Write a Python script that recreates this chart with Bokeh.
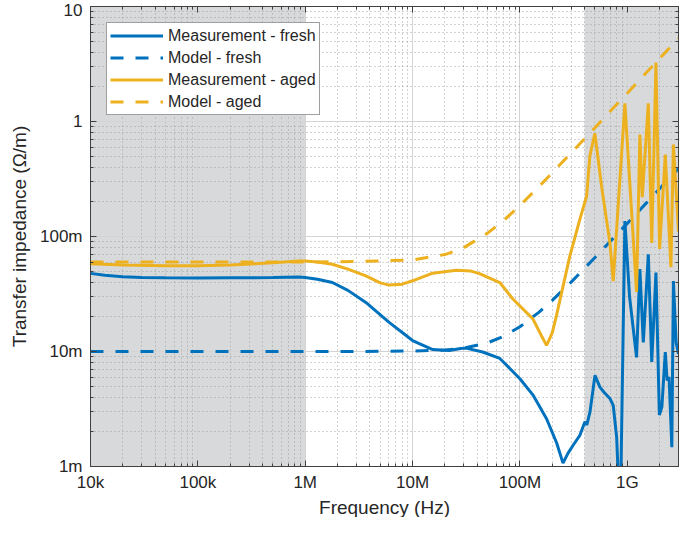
from bokeh.plotting import figure
from bokeh.models import FixedTicker, LogAxis, BoxAnnotation, Legend, LegendItem, Range1d, Title
from bokeh.embed import file_html
from bokeh.resources import INLINE

# ---------------- data ----------------
# Measurement - fresh
f_meas_fresh = [1e4, 1.36e4, 2e4, 3e4, 5e4, 1e5, 2e5, 5e5, 8.7e5, 1e6, 1.3e6, 1.79e6,
                2.5e6, 3.67e6, 6.05e6, 1e7, 1.54e7, 2.2e7, 2.8e7, 3.15e7, 4.5e7, 6.5e7,
                1e8, 1.32e8, 1.77e8, 2.2e8, 2.52e8, 2.8e8, 3.13e8, 3.62e8, 4.03e8, 4.2e8,
                4.5e8, 5e8, 5.56e8, 6.1e8, 6.9e8, 7.4e8, 7.96e8, 8.3e8, 8.7e8, 9.5e8,
                1.05e9, 1.22e9, 1.31e9, 1.41e9, 1.57e9, 1.69e9, 1.85e9, 1.99e9, 2.1e9,
                2.26e9, 2.35e9, 2.45e9, 2.6e9, 2.69e9, 2.85e9, 3e9]
z_meas_fresh = [0.0478, 0.0460, 0.0447, 0.0440, 0.0437, 0.0435, 0.0437, 0.0440, 0.0445, 0.0440,
                0.0425, 0.0398, 0.0340, 0.0267, 0.0179, 0.01245, 0.0104, 0.0102, 0.0106,
                0.0107, 0.0099, 0.0087, 0.0058, 0.0042, 0.0026, 0.0016, 0.00107, 0.0013,
                0.00153, 0.00187, 0.00245, 0.0023, 0.0030, 0.0062, 0.0049, 0.0044, 0.0039,
                0.0034, 0.0018, 0.0007, 0.0007, 0.136, 0.030, 0.0089, 0.052, 0.012, 0.070,
                0.0081, 0.0485, 0.0028, 0.0033, 0.0099, 0.0056, 0.0060, 0.00147, 0.041,
                0.012, 0.0095]

# Measurement - aged
f_meas_aged = [1e4, 2e4, 5e4, 1e5, 2e5, 5e5, 8.7e5, 1e6, 1.3e6, 1.79e6, 2.5e6, 3.67e6,
               5e6, 6.05e6, 8e6, 1e7, 1.54e7, 2.55e7, 3.5e7, 4.2e7, 6.5e7, 8.6e7, 1.32e8,
               1.6e8, 1.77e8, 2.0e8, 2.19e8, 2.92e8, 3.61e8, 4.18e8, 4.48e8, 4.99e8, 5.77e8,
               6.89e8, 7.4e8, 9.5e8, 1.22e9, 1.31e9, 1.38e9, 1.57e9, 1.69e9, 1.85e9, 2.0e9,
               2.26e9, 2.55e9, 2.69e9, 3e9]
z_meas_aged = [0.0580, 0.0565, 0.0558, 0.0556, 0.0565, 0.0590, 0.0612, 0.0612, 0.0600, 0.0574,
               0.0520, 0.0455, 0.0395, 0.0378, 0.0385, 0.0412, 0.0480, 0.0509, 0.0500, 0.0475,
               0.0398, 0.0286, 0.0192, 0.0135, 0.0113, 0.0145, 0.0205, 0.0678, 0.140, 0.224,
               0.50, 0.79, 0.27, 0.088, 0.041, 1.44, 0.033, 0.77, 0.22, 1.44, 0.088, 3.25,
               0.078, 0.515, 0.054, 0.63, 0.11]

# Models (fresh / aged) share the same frequency grid
f_model = [1e4, 1e5, 1e6, 3e6, 1e7, 2e7, 3e7, 5e7, 7e7, 1e8, 1.5e8, 2e8, 3e8, 5e8, 7e8,
           1e9, 1.5e9, 2e9, 3e9]
z_model_fresh = [0.0100, 0.0100, 0.0100, 0.0100, 0.0101, 0.0103, 0.0107, 0.0119, 0.0135,
                 0.0164, 0.0219, 0.0278, 0.0401, 0.0656, 0.0915, 0.130, 0.195, 0.260, 0.390]
z_model_aged = [0.0600, 0.0600, 0.0600, 0.0605, 0.0626, 0.0696, 0.0800, 0.107, 0.137,
                0.186, 0.271, 0.358, 0.533, 0.884, 1.24, 1.76, 2.65, 3.53, 5.29]

# shaded frequency bands
band_low = (1e4, 1e6)
band_high = (4e8, 3e9)

x_ticks = [1e4, 1e5, 1e6, 1e7, 1e8, 1e9]
x_tick_labels = ["10k", "100k", "1M", "10M", "100M", "1G"]
y_ticks = [1e-3, 1e-2, 1e-1, 1, 10]
y_tick_labels = ["1m", "10m", "100m", "1", "10"]

# ---------------- styling ----------------
BLUE = "#0072BD"
YELLOW = "#EDB120"
TXT = "#262626"
AX = "#404040"
FONT = "Liberation Sans"

x_minor = [m * 10 ** d for d in range(4, 10) for m in range(2, 10)]
y_minor = [m * 10 ** d for d in range(-3, 1) for m in range(2, 10)]
xt = FixedTicker(ticks=x_ticks, minor_ticks=x_minor)
yt = FixedTicker(ticks=y_ticks, minor_ticks=y_minor)

p = figure(width=676, height=517, x_axis_type="log", y_axis_type="log",
           x_range=Range1d(1e4, 3e9), y_range=Range1d(1e-3, 10),
           output_backend="svg", toolbar_location=None,
           min_border_left=60, min_border_right=3, min_border_top=6, min_border_bottom=20)
p.margin = (0, 0, 0, 5)
p.background_fill_color = "white"
p.border_fill_color = "white"
p.outline_line_color = AX
p.outline_line_width = 1

# shaded bands
p.add_layout(BoxAnnotation(left=band_low[0], right=band_low[1], fill_color="#d8d9db",
                           fill_alpha=1.0, line_alpha=0, level="image"))
p.add_layout(BoxAnnotation(left=band_high[0], right=band_high[1], fill_color="#d8d9db",
                           fill_alpha=1.0, line_alpha=0, level="image"))

# axes
for ax, tk, labels in ((p.xaxis[0], xt, x_tick_labels), (p.yaxis[0], yt, y_tick_labels)):
    ax.ticker = tk
    ax.major_label_overrides = {t: l for t, l in zip(tk.ticks, labels)}
    ax.major_label_text_font = FONT
    ax.major_label_text_font_size = "17px"
    ax.major_label_text_color = TXT
    ax.axis_line_color = AX
    ax.major_tick_line_color = AX
    ax.minor_tick_line_color = AX
    ax.major_tick_in = 6
    ax.major_tick_out = 0
    ax.minor_tick_in = 3
    ax.minor_tick_out = 0
    ax.axis_label_text_font = FONT
    ax.axis_label_text_font_size = "19px"
    ax.axis_label_text_font_style = "normal"
    ax.axis_label_text_color = TXT

p.yaxis.axis_label = "Transfer impedance (\u03a9/m)"
p.xaxis.major_label_standoff = 6
p.yaxis.major_label_standoff = 8
p.yaxis.axis_label_standoff = 7

# x-axis title as a centred caption below the axis
p.add_layout(Title(text="Frequency (Hz)", align="center", text_font=FONT,
                   text_font_size="19px", text_font_style="normal", text_color=TXT,
                   standoff=0, offset=0), "below")

# mirrored ticks on top / right (no labels)
top = LogAxis(ticker=FixedTicker(ticks=x_ticks, minor_ticks=x_minor),
              major_label_overrides={t: "" for t in x_ticks}, major_label_standoff=0,
              major_label_text_font_size="1px",
              axis_line_color=AX, major_tick_line_color=AX, minor_tick_line_color=AX,
              major_tick_in=6, major_tick_out=0, minor_tick_in=3, minor_tick_out=0)
right = LogAxis(ticker=FixedTicker(ticks=y_ticks, minor_ticks=y_minor),
                major_label_overrides={t: "" for t in y_ticks}, major_label_standoff=0,
                major_label_text_font_size="1px",
                axis_line_color=AX, major_tick_line_color=AX, minor_tick_line_color=AX,
                major_tick_in=6, major_tick_out=0, minor_tick_in=3, minor_tick_out=0)
p.add_layout(top, "above")
p.add_layout(right, "right")

# grids
for g in (p.xgrid[0], p.ygrid[0]):
    g.grid_line_color = "#d4d4d4"
    g.grid_line_width = 1
    g.minor_grid_line_color = "#8c8c8c"
    g.minor_grid_line_alpha = 0.75
    g.minor_grid_line_dash = "1 3"
    g.minor_grid_line_width = 1

# curves
r1 = p.line(f_meas_fresh, z_meas_fresh, line_color=BLUE, line_width=3)
r2 = p.line(f_model, z_model_fresh, line_color=BLUE, line_width=3, line_dash="13 12")
r3 = p.line(f_meas_aged, z_meas_aged, line_color=YELLOW, line_width=3)
r4 = p.line(f_model, z_model_aged, line_color=YELLOW, line_width=3, line_dash="13 12")

legend = Legend(items=[
    LegendItem(label="Measurement - fresh", renderers=[r1]),
    LegendItem(label="Model - fresh", renderers=[r2]),
    LegendItem(label="Measurement - aged", renderers=[r3]),
    LegendItem(label="Model - aged", renderers=[r4]),
], location="top_left")
legend.margin = 16
legend.padding = 3
legend.spacing = 3
legend.glyph_width = 53
legend.glyph_height = 19
legend.label_height = 19
legend.label_standoff = 5
legend.label_text_font = FONT
legend.label_text_font_size = "16px"
legend.label_text_color = TXT
legend.border_line_color = AX
legend.border_line_width = 1
legend.background_fill_color = "white"
legend.background_fill_alpha = 1.0
p.add_layout(legend, "center")

open("out.html", "w").write(file_html(p, INLINE))
